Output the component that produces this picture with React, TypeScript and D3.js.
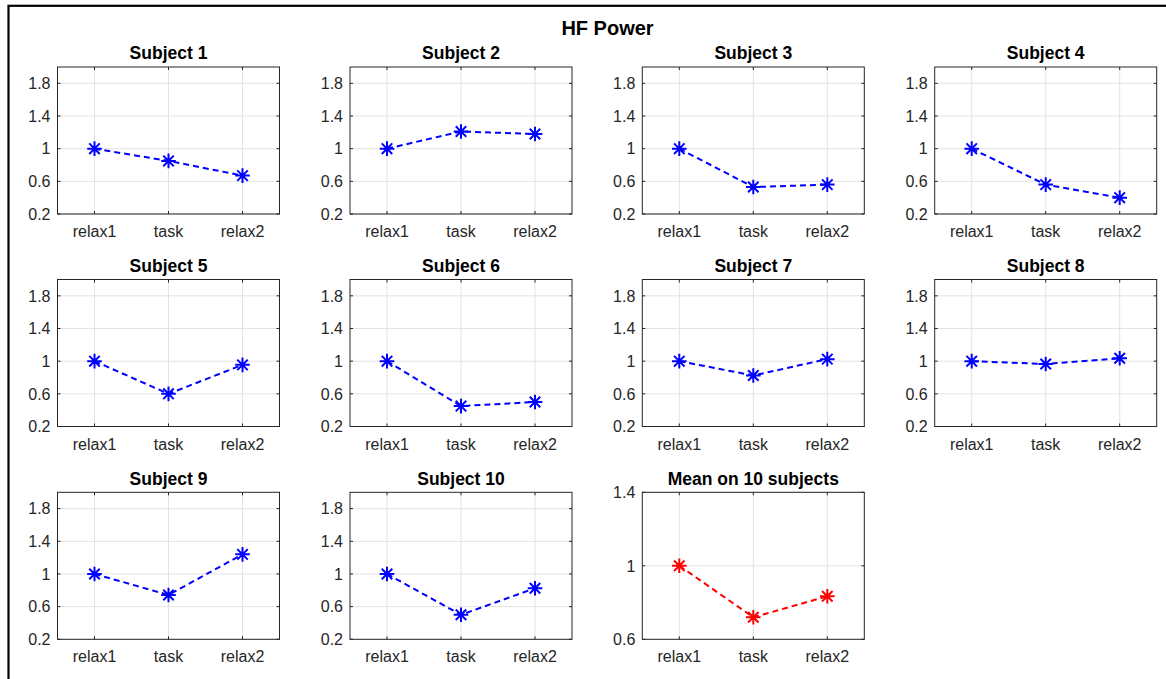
import React from "react";
import * as d3 from "d3";

const categories = ["relax1", "task", "relax2"];
const subjectTitles = [
  "Subject 1", "Subject 2", "Subject 3", "Subject 4", "Subject 5",
  "Subject 6", "Subject 7", "Subject 8", "Subject 9", "Subject 10",
];
const s1 = [1, 0.85, 0.67];
const s2 = [1, 1.21, 1.18];
const s3 = [1, 0.53, 0.56];
const s4 = [1, 0.56, 0.4];
const s5 = [1, 0.6, 0.955];
const s6 = [1, 0.45, 0.5];
const s7 = [1, 0.825, 1.025];
const s8 = [1, 0.965, 1.035];
const s9 = [1, 0.743, 1.24];
const s10 = [1, 0.5, 0.825];
const meanValues = [1, 0.72, 0.834];
const subjectTicks = [0.2, 0.6, 1, 1.4, 1.8];
const meanTicks = [0.6, 1, 1.4];
const mainTitle = "HF Power";
const meanTitle = "Mean on 10 subjects";

const W = 1166;
const H = 679;
const colLeft = [57.5, 350, 642.3, 934.7];
const rowTop = [67, 279.5, 492.3];
const AW = 222;
const AH = 147;
const FONT = "'Liberation Sans', Arial, Helvetica, sans-serif";
const AXC = "#262626";

function star(r: number) {
  const d = r * 0.72;
  return `M${-r},0L${r},0M0,${-r}L0,${r}M${-d},${-d}L${d},${d}M${-d},${d}L${d},${-d}`;
}

function Panel({ left, top, values, title, ticks, domain, color }: any) {
  const x = d3.scaleLinear().domain([0.5, 3.5]).range([left, left + AW]);
  const y = d3.scaleLinear().domain(domain).range([top + AH, top]);
  const line = d3
    .line<number>()
    .x((_, i) => x(i + 1))
    .y((v) => y(v));
  const tl = 3;
  return (
    <g>
      <rect x={left} y={top} width={AW} height={AH} fill="#fff" />
      {categories.map((_, i) => (
        <line key={"gx" + i} x1={x(i + 1)} x2={x(i + 1)} y1={top} y2={top + AH} stroke="#e3e3e3" strokeWidth={1} />
      ))}
      {ticks.map((t: number) => (
        <line key={"gy" + t} x1={left} x2={left + AW} y1={y(t)} y2={y(t)} stroke="#e3e3e3" strokeWidth={1} />
      ))}
      {categories.map((_, i) => (
        <g key={"tx" + i}>
          <line x1={x(i + 1)} x2={x(i + 1)} y1={top + AH} y2={top + AH - tl} stroke={AXC} />
          <line x1={x(i + 1)} x2={x(i + 1)} y1={top} y2={top + tl} stroke={AXC} />
        </g>
      ))}
      {ticks.map((t: number) => (
        <g key={"ty" + t}>
          <line x1={left} x2={left + tl} y1={y(t)} y2={y(t)} stroke={AXC} />
          <line x1={left + AW} x2={left + AW - tl} y1={y(t)} y2={y(t)} stroke={AXC} />
        </g>
      ))}
      <rect x={left} y={top} width={AW} height={AH} fill="none" stroke={AXC} strokeWidth={1} />
      <path d={line(values) || ""} fill="none" stroke={color} strokeWidth={2} strokeDasharray="6,4" />
      {values.map((v: number, i: number) => (
        <path key={"m" + i} d={star(7.3)} transform={`translate(${x(i + 1)},${y(v)})`} stroke={color} strokeWidth={2} fill="none" />
      ))}
      {ticks.map((t: number) => (
        <text key={"yl" + t} x={left - 7} y={y(t)} dy="0.36em" textAnchor="end" fontSize={16} fill={AXC} fontFamily={FONT}>
          {d3.format("~g")(t)}
        </text>
      ))}
      {categories.map((c, i) => (
        <text key={"xl" + i} x={x(i + 1)} y={top + AH + 23} textAnchor="middle" fontSize={16} fill={AXC} fontFamily={FONT}>
          {c}
        </text>
      ))}
      <text x={left + AW / 2} y={top - 7.7} textAnchor="middle" fontSize={17.5} fontWeight="bold" fill="#000" fontFamily={FONT}>
        {title}
      </text>
    </g>
  );
}

export default function App() {
  const subjects = [s1, s2, s3, s4, s5, s6, s7, s8, s9, s10];
  return (
    <svg width={W} height={H} style={{ position: "absolute", left: 0, top: 0, background: "#fff" }}>
      <rect x={0} y={0} width={W} height={H} fill="#fff" />
      <rect x={8.5} y={5.8} width={W + 20} height={H + 20} fill="none" stroke="#000" strokeWidth={2.2} />
      <text x={607.5} y={35} textAnchor="middle" fontSize={20} fontWeight="bold" fill="#000" fontFamily={FONT}>
        {mainTitle}
      </text>
      {subjects.map((vals, k) => (
        <Panel
          key={k}
          left={colLeft[k % 4]}
          top={rowTop[Math.floor(k / 4)]}
          values={vals}
          title={subjectTitles[k]}
          ticks={subjectTicks}
          domain={[0.2, 2.0]}
          color="#0000ff"
        />
      ))}
      <Panel
        left={colLeft[2]}
        top={rowTop[2]}
        values={meanValues}
        title={meanTitle}
        ticks={meanTicks}
        domain={[0.6, 1.4]}
        color="#ff0000"
      />
    </svg>
  );
}
